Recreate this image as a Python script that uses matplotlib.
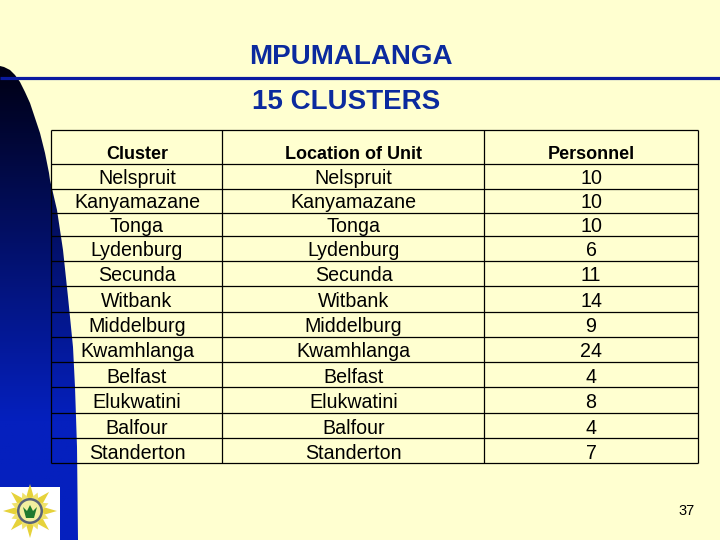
import numpy as np
import matplotlib
matplotlib.use("Agg")
import matplotlib.pyplot as plt
from matplotlib.patches import Polygon, Rectangle, Circle

plt.rcParams['font.family'] = ['Liberation Sans', 'DejaVu Sans']

title_main = "MPUMALANGA"
title_sub = "15 CLUSTERS"
headers = ["Cluster", "Location of Unit", "Personnel"]
clusters = ["Nelspruit", "Kanyamazane", "Tonga", "Lydenburg", "Secunda", "Witbank",
            "Middelburg", "Kwamhlanga", "Belfast", "Elukwatini", "Balfour", "Standerton"]
locations = list(clusters)
personnel = [10, 10, 10, 6, 11, 14, 9, 24, 4, 8, 4, 7]
page_number = "37"

BG = "#FFFFD0"
NAVY = "#0B2A9E"
row_lines = [130, 164, 189, 213, 236, 261, 286, 312, 337, 362, 387, 413, 438, 463]
col_lines = [51, 222, 484, 698]
row_baselines = [184, 208, 232, 256, 281, 307, 332, 357, 383, 408, 434, 459]
col_centers = [137, 353.5, 591]

fig = plt.figure(figsize=(7.2, 5.4), dpi=100, facecolor=BG)
ax = fig.add_axes([0, 0, 1, 1])
ax.set_xlim(0, 720)
ax.set_ylim(540, 0)
ax.axis("off")

# gradient swoosh on the left
edge_y = [66, 67, 70, 75, 82, 92, 103, 118, 133, 153, 173, 180, 210, 250, 297, 347, 387, 447, 540]
edge_x = [0, 4, 10, 15, 20, 25, 30, 35, 40, 45, 49, 50, 57, 63, 68, 73, 75, 77, 78]
shape = Polygon(list(zip(edge_x, edge_y)) + [(0, 540)], closed=True, transform=ax.transData,
                fc="none", ec="none")
ax.add_patch(shape)
top = np.array([0, 0, 20])
bottom = np.array([5, 32, 190])
ts = np.clip((np.linspace(66, 540, 256) - 66) / (420 - 66), 0, 1)[:, None]
grad = (top + (bottom - top) * ts) / 255
im = ax.imshow(grad[:, None, :], extent=(0, 80, 540, 66), aspect="auto", zorder=1)
im.set_clip_path(shape)
ax.set_xlim(0, 720)
ax.set_ylim(540, 0)

# rule under the title
ax.plot([0, 720], [78, 78], color="#0A1AA0", lw=2.3, zorder=3, solid_capstyle="butt")

# titles
ax.text(350.5, 64, title_main, ha="center", va="baseline", fontsize=20, fontweight="bold",
        color=NAVY, zorder=4)
ax.text(346, 109, title_sub, ha="center", va="baseline", fontsize=20, fontweight="bold",
        color=NAVY, zorder=4)

# table grid
for y in row_lines:
    ax.plot([col_lines[0], col_lines[-1]], [y, y], color="black", lw=0.9, zorder=3,
            solid_capstyle="butt")
for x in col_lines:
    ax.plot([x, x], [row_lines[0], row_lines[-1]], color="black", lw=0.9, zorder=3,
            solid_capstyle="butt")

# header row
for cx, h in zip(col_centers, headers):
    ax.text(cx, 159, h, ha="center", va="baseline", fontsize=13, fontweight="bold",
            color="black", zorder=4)

# body
for i, y in enumerate(row_baselines):
    ax.text(col_centers[0], y, clusters[i], ha="center", va="baseline", fontsize=14.1, color="black", zorder=4)
    ax.text(col_centers[1], y, locations[i], ha="center", va="baseline", fontsize=14.1, color="black", zorder=4)
    ax.text(col_centers[2], y, str(personnel[i]), ha="center", va="baseline", fontsize=14.1, color="black", zorder=4)

ax.text(687, 515, page_number, ha="center", va="baseline", fontsize=10.5, color="black", zorder=4)

# badge
ax.add_patch(Rectangle((0, 487), 60, 53, fc="white", ec="none", zorder=2))
cx, cy = 30, 511
ang = np.linspace(0, 2 * np.pi, 16, endpoint=False)
radii = np.where(np.arange(16) % 2 == 0, 27, 12)
ax.add_patch(Polygon(np.c_[cx + radii * np.cos(ang), cy + radii * np.sin(ang)], closed=True,
                     fc="#E6D23A", ec="none", zorder=3))
ang2 = ang + np.pi / 8
radii2 = np.where(np.arange(16) % 2 == 0, 20, 12)
ax.add_patch(Polygon(np.c_[cx + radii2 * np.cos(ang2), cy + radii2 * np.sin(ang2)], closed=True,
                     fc="#F0E26A", ec="none", zorder=3))
ax.add_patch(Circle((cx, cy), 13, fc="#5A6478", ec="none", zorder=4))
ax.add_patch(Circle((cx, cy), 10.5, fc="#F2EFA0", ec="none", zorder=5))
ax.add_patch(Polygon([(cx - 7, cy - 4), (cx - 3, cy), (cx, cy - 6), (cx + 3, cy), (cx + 7, cy - 4),
                      (cx + 4, cy + 7), (cx - 4, cy + 7)],
                     closed=True, fc="#1E7A2E", ec="none", zorder=6))

fig.savefig("out.png", dpi=100, facecolor=BG)
